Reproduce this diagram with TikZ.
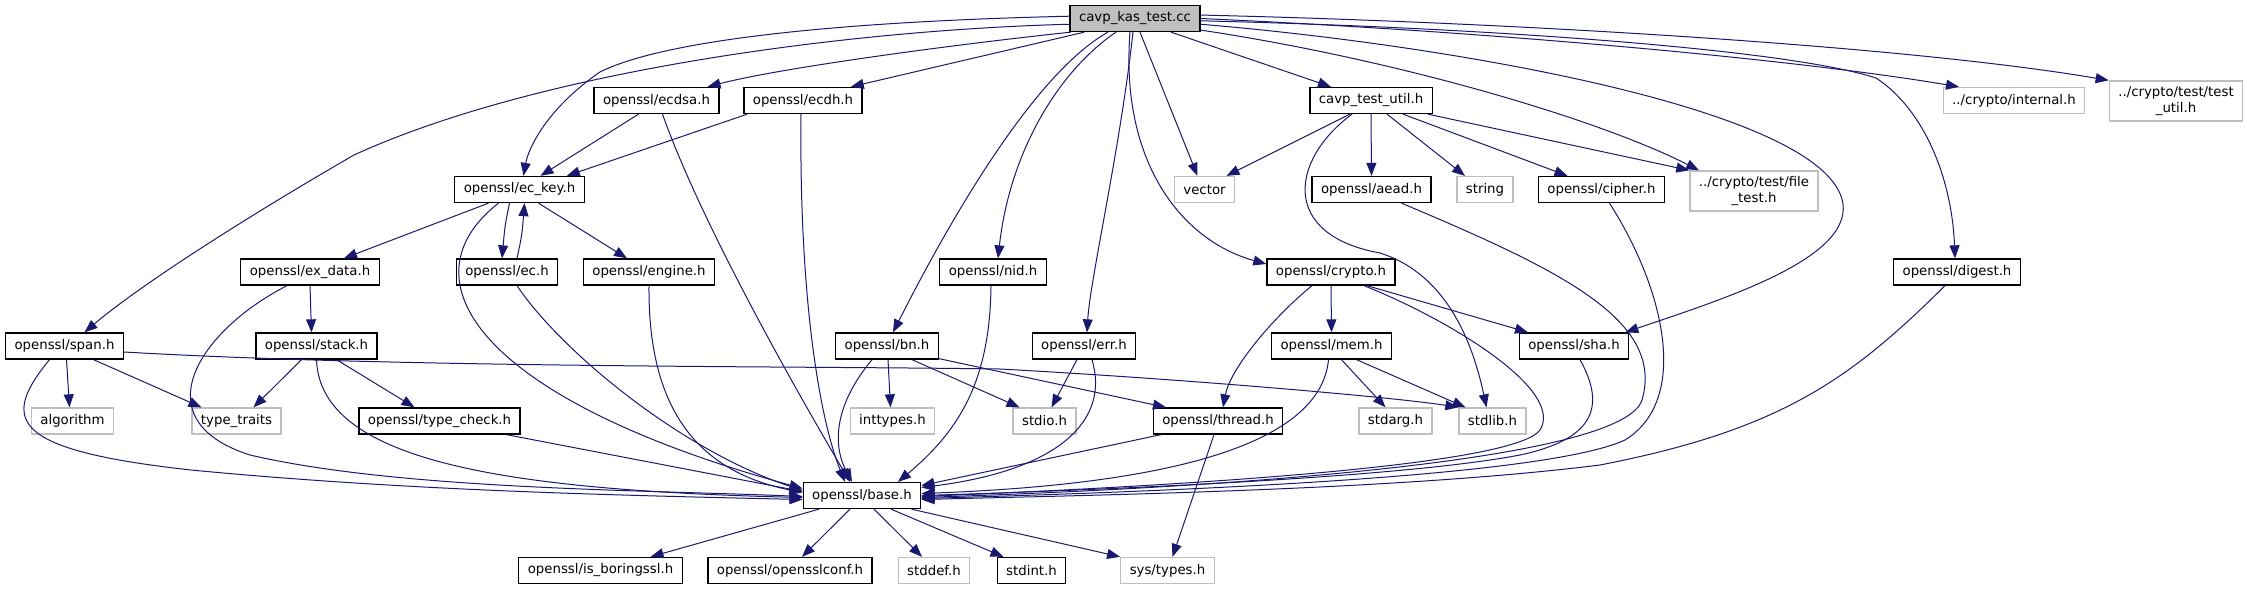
\documentclass[tikz,border=0pt]{standalone}
\usepackage{fontspec}
\setmainfont{DejaVu Sans}
\usetikzlibrary{arrows.meta, positioning}

\definecolor{edgeblue}{HTML}{191970}
\definecolor{extgray}{HTML}{BFBFBF}

\begin{document}
\begin{tikzpicture}[x=1pt, y=-1pt,
    font=\fontsize{13.3}{15.5}\selectfont,
    file/.style={draw=black, line width=1.3pt, fill=white, inner xsep=9pt, inner ysep=2pt, minimum height=26pt},
    sysfile/.style={file, draw=extgray},
    mainfile/.style={file, fill=extgray},
    twoline/.style={align=center, minimum height=40pt},
    dep/.style={draw=edgeblue, line width=1pt, -{Triangle[length=13pt, width=10pt]}}]

  \useasboundingbox (0,0) rectangle (2247,589);

  % Nodes
  \node[mainfile] (main) at (1135,18.5) {cavp\_kas\_test.cc};

  \node[file] (ecdsa) at (656.5,100.5) {openssl/ecdsa.h};
  \node[file] (ecdh) at (803,100.5) {openssl/ecdh.h};
  \node[file] (util) at (1371,100.5) {cavp\_test\_util.h};
  \node[sysfile] (internal) at (2014,100.5) {../crypto/internal.h};
  \node[sysfile, twoline] (testutil) at (2176,101) {../crypto/test/test\\\_util.h};

  \node[file] (eckey) at (519.5,189.5) {openssl/ec\_key.h};
  \node[sysfile] (vector) at (1204.5,189.5) {vector};
  \node[file] (aead) at (1371.5,189.5) {openssl/aead.h};
  \node[sysfile] (string) at (1485,189.5) {string};
  \node[file] (cipher) at (1601.5,189.5) {openssl/cipher.h};
  \node[sysfile, twoline] (filetest) at (1754,191) {../crypto/test/file\\\_test.h};

  \node[file] (exdata) at (310,272) {openssl/ex\_data.h};
  \node[file] (ec) at (507,272) {openssl/ec.h};
  \node[file] (engine) at (649,272) {openssl/engine.h};
  \node[file] (nid) at (993,272) {openssl/nid.h};
  \node[file] (crypto) at (1331,272) {openssl/crypto.h};
  \node[file] (digest) at (1957,272) {openssl/digest.h};

  \node[file] (span) at (64.5,346) {openssl/span.h};
  \node[file] (stack) at (316.5,346) {openssl/stack.h};
  \node[file] (bn) at (887,346) {openssl/bn.h};
  \node[file] (err) at (1084,346) {openssl/err.h};
  \node[file] (mem) at (1331.5,346) {openssl/mem.h};
  \node[file] (sha) at (1574,346) {openssl/sha.h};

  \node[sysfile] (algorithm) at (72.5,421) {algorithm};
  \node[sysfile] (typetraits) at (236.5,421) {type\_traits};
  \node[file] (typecheck) at (439.5,421) {openssl/type\_check.h};
  \node[sysfile] (inttypes) at (892.5,421) {inttypes.h};
  \node[sysfile] (stdio) at (1044.5,421) {stdio.h};
  \node[file] (thread) at (1218,421) {openssl/thread.h};
  \node[sysfile] (stdarg) at (1395.5,421) {stdarg.h};
  \node[sysfile] (stdlib) at (1492.5,421) {stdlib.h};

  \node[file] (base) at (862,495.5) {openssl/base.h};

  \node[file] (boring) at (600.5,570.5) {openssl/is\_boringssl.h};
  \node[file] (conf) at (790,570.5) {openssl/opensslconf.h};
  \node[sysfile] (stddef) at (934,570.5) {stddef.h};
  \node[file] (stdint) at (1031.5,570.5) {stdint.h};
  \node[sysfile] (systypes) at (1167.5,570.5) {sys/types.h};

  % Edges
  \draw[dep] (main.185) .. controls (850,30) and (540,70) .. (354,155) .. controls (250,215) and (140,285) .. ([xshift=20pt]span.north);
  \draw[dep] (main.178) .. controls (820,22) and (660,42) .. (600,72) .. controls (545,110) and (528,150) .. ([xshift=4pt]eckey.north);
  \draw[dep] (main.192) .. controls (950,45) and (780,68) .. ([xshift=51pt]ecdsa.north);
  \draw[dep] ([xshift=15pt]main.south west) -- ([xshift=-12pt]ecdh.north east);
  \draw[dep] ([xshift=-27pt]main.south) .. controls (1040,70) and (960,200) .. ([xshift=6pt]bn.north);
  \draw[dep] ([xshift=-19pt]main.south) .. controls (1060,70) and (1010,150) .. ([xshift=5pt]nid.north);
  \draw[dep] ([xshift=-2pt]main.south) .. controls (1120,150) and (1090,280) .. ([xshift=3pt]err.north);
  \draw[dep] ([xshift=-5pt]main.south) .. controls (1120,160) and (1180,240) .. ([yshift=8pt]crypto.west);
  \draw[dep] ([xshift=5pt]main.south) -- ([xshift=-7pt]vector.north);
  \draw[dep] ([xshift=36pt]main.south) -- ([xshift=-40pt]util.north);
  \draw[dep] (main.-10) .. controls (1400,60) and (1600,120) .. ([xshift=-55pt]filetest.north);
  \draw[dep] (main.-5) .. controls (1450,45) and (1830,110) .. (1843,204) .. controls (1850,260) and (1720,300) .. ([xshift=-4pt]sha.north east);
  \draw[dep] (main.-2) .. controls (1500,28) and (1790,50) .. (1876,78) .. controls (1925,110) and (1952,180) .. ([xshift=-2pt]digest.north);
  \draw[dep] (main.0) .. controls (1500,32) and (1800,60) .. ([xshift=-55pt]internal.north);
  \draw[dep] (main.3) .. controls (1500,22) and (1900,45) .. (testutil.north west);

  \draw[dep] ([xshift=-18pt]ecdsa.south) -- ([xshift=21pt]eckey.north);
  \draw[dep] ([xshift=6pt]ecdsa.south) .. controls (700,220) and (790,380) .. ([xshift=-12pt]base.north);
  \draw[dep] ([xshift=4pt]ecdh.south west) -- ([xshift=-18pt]eckey.north east);
  \draw[dep] ([xshift=-2pt]ecdh.south) .. controls (799,300) and (820,420) .. ([xshift=-17pt]base.north);

  \draw[dep] ([xshift=-31pt]eckey.south) -- ([xshift=34pt]exdata.north);
  \draw[dep] ([xshift=-10pt]eckey.south) .. controls (505,225) .. ([xshift=-5pt]ec.north);
  \draw[dep] ([xshift=19pt]eckey.south) -- ([xshift=-22pt]engine.north);
  \draw[dep] ([xshift=-21pt]eckey.south) .. controls (400,280) and (480,400) .. ([yshift=7pt]base.west);
  \draw[dep] ([xshift=10pt]ec.north) .. controls (522,235) .. ([xshift=5pt]eckey.south);
  \draw[dep] ([xshift=10pt]ec.south) .. controls (560,350) and (680,450) .. ([yshift=5pt]base.west);
  \draw[dep] (engine.south) .. controls (648,400) and (690,470) .. ([yshift=3pt]base.west);

  \draw[dep] (exdata.south) -- ([xshift=-5pt]stack.north);
  \draw[dep] ([xshift=-23pt]exdata.south) .. controls (200,330) and (140,420) .. (250,455) .. controls (400,490) and (650,490) .. ([yshift=-1pt]base.west);
  \draw[dep] ([xshift=-15pt]stack.south) -- ([xshift=17pt]typetraits.north);
  \draw[dep] ([xshift=20pt]stack.south) -- ([xshift=-25pt]typecheck.north);
  \draw[dep] (stack.south) .. controls (320,460) and (500,490) .. ([yshift=-2pt]base.west);
  \draw[dep] ([xshift=2pt]span.south) -- ([xshift=-3pt]algorithm.north);
  \draw[dep] ([xshift=29pt]span.south) -- ([xshift=-35pt]typetraits.north);
  \draw[dep] ([xshift=-15pt]span.south) .. controls (0,420) and (10,450) .. (191,470) .. controls (400,490) and (600,495) .. ([yshift=-4pt]base.west);
  \draw[dep] ([yshift=-6pt]span.east) .. controls (400,368) and (800,366) .. (1000,369) .. controls (1200,380) and (1400,398) .. (stdlib.north west);
  \draw[dep] ([xshift=67pt]typecheck.south) -- ([yshift=4pt]base.west);

  \draw[dep] ([xshift=-2pt]nid.south) .. controls (990,380) and (960,430) .. ([xshift=36pt]base.north);
  \draw[dep] ([xshift=1pt]bn.south) -- ([xshift=-2pt]inttypes.north);
  \draw[dep] ([xshift=25pt]bn.south) -- ([xshift=-25pt]stdio.north);
  \draw[dep] ([yshift=1pt]bn.south east) -- ([xshift=-52pt]thread.north);
  \draw[dep] ([xshift=-15pt]bn.south) .. controls (830,410) and (835,450) .. ([xshift=-10pt]base.north);
  \draw[dep] ([xshift=-7pt]err.south) -- ([xshift=7pt]stdio.north);
  \draw[dep] ([xshift=8pt]err.south) .. controls (1110,420) and (1060,470) .. ([yshift=8pt]base.east);
  \draw[dep] ([xshift=-57pt]thread.south) -- ([yshift=10pt]base.east);
  \draw[dep] ([xshift=-4pt]thread.south) -- ([xshift=5pt]systypes.north);

  \draw[dep] ([xshift=10pt]mem.south) -- ([xshift=-10pt]stdarg.north);
  \draw[dep] ([xshift=25pt]mem.south) -- ([xshift=-27pt]stdlib.north);
  \draw[dep] ([xshift=-3pt]mem.south) .. controls (1320,450) and (1150,485) .. ([yshift=2pt]base.east);
  \draw[dep] (crypto.south) -- (mem.north);
  \draw[dep] ([xshift=-19pt]crypto.south) .. controls (1270,320) and (1230,370) .. ([xshift=5pt]thread.north);
  \draw[dep] ([xshift=36pt]crypto.south) -- ([xshift=-46pt]sha.north);
  \draw[dep] ([xshift=33pt]crypto.south) .. controls (1450,320) and (1565,390) .. (1540,430) .. controls (1515,465) and (1200,485) .. ([yshift=-1pt]base.east);

  \draw[dep] ([xshift=-21pt]util.south) -- ([xshift=22pt]vector.north);
  \draw[dep] (util.south) -- (aead.north);
  \draw[dep] ([xshift=16pt]util.south) -- ([xshift=-20pt]string.north);
  \draw[dep] ([xshift=32pt]util.south) -- ([xshift=-34pt]cipher.north);
  \draw[dep] ([xshift=-5pt]util.south east) -- (filetest.north west);
  \draw[dep] ([xshift=-19pt]util.south) .. controls (1290,160) and (1280,235) .. (1380,253) .. controls (1440,272) and (1470,330) .. ([xshift=-6pt]stdlib.north);

  \draw[dep] ([xshift=30pt]aead.south) .. controls (1560,270) and (1665,320) .. (1642,400) .. controls (1625,455) and (1300,485) .. ([yshift=-2pt]base.east);
  \draw[dep] ([xshift=8pt]cipher.south) .. controls (1665,290) and (1690,400) .. (1625,440) .. controls (1560,470) and (1300,488) .. ([yshift=-3pt]base.east);
  \draw[dep] ([xshift=6pt]sha.south) .. controls (1608,410) and (1590,440) .. (1520,455) .. controls (1400,478) and (1100,490) .. (base.east);
  \draw[dep] ([xshift=-12pt]digest.south) .. controls (1850,380) and (1780,430) .. (1600,465) .. controls (1400,490) and (1100,495) .. ([yshift=-4pt]base.east);

  \draw[dep] ([xshift=-43pt]base.south) -- ([xshift=50pt]boring.north);
  \draw[dep] ([xshift=-12pt]base.south) -- ([xshift=12pt]conf.north);
  \draw[dep] ([xshift=12pt]base.south) -- ([xshift=-12pt]stddef.north);
  \draw[dep] ([xshift=29pt]base.south) -- ([xshift=-28pt]stdint.north);
  \draw[dep] ([xshift=-10pt]base.south east) -- (systypes.north west);

\end{tikzpicture}
\end{document}
